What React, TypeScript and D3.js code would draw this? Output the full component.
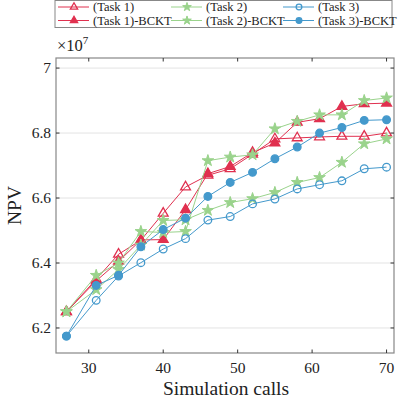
import React from 'react';
import * as d3 from 'd3';

// values in units of 1e7
const calls = [27, 31, 34, 37, 40, 43, 46, 49, 52, 55, 58, 61, 64, 67, 70];
const task1 = [6.25, 6.35, 6.427, 6.47, 6.553, 6.634, 6.67, 6.69, 6.735, 6.782, 6.785, 6.788, 6.79, 6.79, 6.8];
const task1Bckt = [6.25, 6.345, 6.405, 6.471, 6.472, 6.564, 6.675, 6.697, 6.74, 6.769, 6.833, 6.844, 6.882, 6.89, 6.892];
const task2 = [6.25, 6.318, 6.38, 6.455, 6.531, 6.533, 6.562, 6.586, 6.598, 6.617, 6.648, 6.663, 6.71, 6.767, 6.782];
const task2Bckt = [6.25, 6.362, 6.4, 6.497, 6.494, 6.497, 6.715, 6.726, 6.733, 6.813, 6.836, 6.856, 6.856, 6.9, 6.908];
const task3 = [6.175, 6.285, 6.36, 6.401, 6.443, 6.475, 6.532, 6.543, 6.582, 6.597, 6.628, 6.641, 6.653, 6.69, 6.695];
const task3Bckt = [6.175, 6.331, 6.362, 6.45, 6.503, 6.538, 6.605, 6.648, 6.679, 6.721, 6.757, 6.8, 6.817, 6.839, 6.841];

const xTicks = [30, 40, 50, 60, 70];
const yTicks = [6.2, 6.4, 6.6, 6.8, 7];

const RED = '#e0304f';
const GREEN = '#9ad38c';
const BLUE = '#4499cc';

const series = [
  { name: '(Task 1)', values: task1, color: RED, shape: 'tri', filled: false },
  { name: '(Task 1)-BCKT', values: task1Bckt, color: RED, shape: 'tri', filled: true },
  { name: '(Task 2)', values: task2, color: GREEN, shape: 'star', filled: true },
  { name: '(Task 2)-BCKT', values: task2Bckt, color: GREEN, shape: 'star', filled: true },
  { name: '(Task 3)', values: task3, color: BLUE, shape: 'circle', filled: false },
  { name: '(Task 3)-BCKT', values: task3Bckt, color: BLUE, shape: 'circle', filled: true },
];

const W = 398;
const H = 401;
const left = 56, right = 394, top = 58, bottom = 353;
const font = 'Liberation Serif, serif';

const x = d3.scaleLinear().domain([25.6, 71]).range([left, right]);
const y = d3.scaleLinear().domain([6.123, 7.031]).range([bottom, top]);

const symbolPath = (shape, k = 1) => {
  if (shape === 'tri') return d3.symbol().type(d3.symbolTriangle).size(42 * k)();
  if (shape === 'star') return d3.symbol().type(d3.symbolStar).size(42 * k)();
  return d3.symbol().type(d3.symbolCircle).size(46 * k)();
};

const Marker = ({ s, cx, cy, k = 1 }) => {
  const filled = s.filled;
  return (
    <path
      d={symbolPath(s.shape, k)}
      transform={`translate(${cx},${cy})`}
      fill={filled ? s.color : 'white'}
      fillOpacity={filled ? 1 : 0}
      stroke={s.color}
      strokeWidth={s.shape === 'star' ? 1 : 1.3}
    />
  );
};

const App = () => {
  const line = d3
    .line<number>()
    .x((d, i) => x(calls[i]))
    .y((d) => y(d));

  const legendCols = [58, 171, 283];

  return (
    <svg width={W} height={H} style={{ position: 'absolute', left: 0, top: 0, background: 'white' }}>
      {/* grid */}
      {yTicks.map((t) => (
        <line key={'g' + t} x1={left} x2={right} y1={y(t)} y2={y(t)} stroke="#e3e3e3" strokeWidth={1} />
      ))}
      {/* series */}
      {series.map((s) => (
        <g key={s.name}>
          <path d={line(s.values)} fill="none" stroke={s.color} strokeWidth={1} />
          {s.values.map((v, i) => (
            <Marker key={i} s={s} cx={x(calls[i])} cy={y(v)} />
          ))}
        </g>
      ))}
      {/* frame */}
      <rect x={left} y={top} width={right - left} height={bottom - top} fill="none" stroke="#888" strokeWidth={1.2} />
      {xTicks.map((t) => (
        <g key={'x' + t}>
          <line x1={x(t)} x2={x(t)} y1={bottom} y2={bottom - 3.5} stroke="#333" />
          <line x1={x(t)} x2={x(t)} y1={top} y2={top + 3.5} stroke="#333" />
          <text x={x(t)} y={bottom + 20} textAnchor="middle" fontFamily={font} fontSize={15.5} fill="#222">
            {t}
          </text>
        </g>
      ))}
      {yTicks.map((t) => (
        <g key={'y' + t}>
          <line x1={left} x2={left + 3.5} y1={y(t)} y2={y(t)} stroke="#333" />
          <line x1={right} x2={right - 3.5} y1={y(t)} y2={y(t)} stroke="#333" />
          <text x={left - 5} y={y(t) + 5} textAnchor="end" fontFamily={font} fontSize={15.5} fill="#222">
            {t === 7 ? '7' : t.toFixed(1)}
          </text>
        </g>
      ))}
      <text x={57} y={51} fontFamily={font} fontSize={16.5} fill="#222">
        ×10<tspan dy={-7} fontSize={11}>7</tspan>
      </text>
      <text x={W / 2 + 27} y={395} textAnchor="middle" fontFamily={font} fontSize={19.5} fill="#222">
        Simulation calls
      </text>
      <text
        transform={`translate(21,${(top + bottom) / 2}) rotate(-90)`}
        textAnchor="middle"
        fontFamily={font}
        fontSize={19.5}
        fill="#222"
      >
        NPV
      </text>
      {/* legend */}
      <rect x={55} y={0.5} width={337} height={27} fill="white" stroke="#888" strokeWidth={1} />
      {series.map((s, i) => {
        const col = Math.floor(i / 2);
        const row = i % 2;
        const lx = legendCols[col];
        const ly = 7 + row * 13.5;
        return (
          <g key={'l' + s.name}>
            <line x1={lx} x2={lx + 31} y1={ly} y2={ly} stroke={s.color} strokeWidth={1} />
            <Marker s={s} cx={lx + 16} cy={ly} k={0.55} />
            <text x={lx + 35} y={ly + 4} fontFamily={font} fontSize={12.5} fill="#222">
              {s.name}
            </text>
          </g>
        );
      })}
    </svg>
  );
};

export default App;
